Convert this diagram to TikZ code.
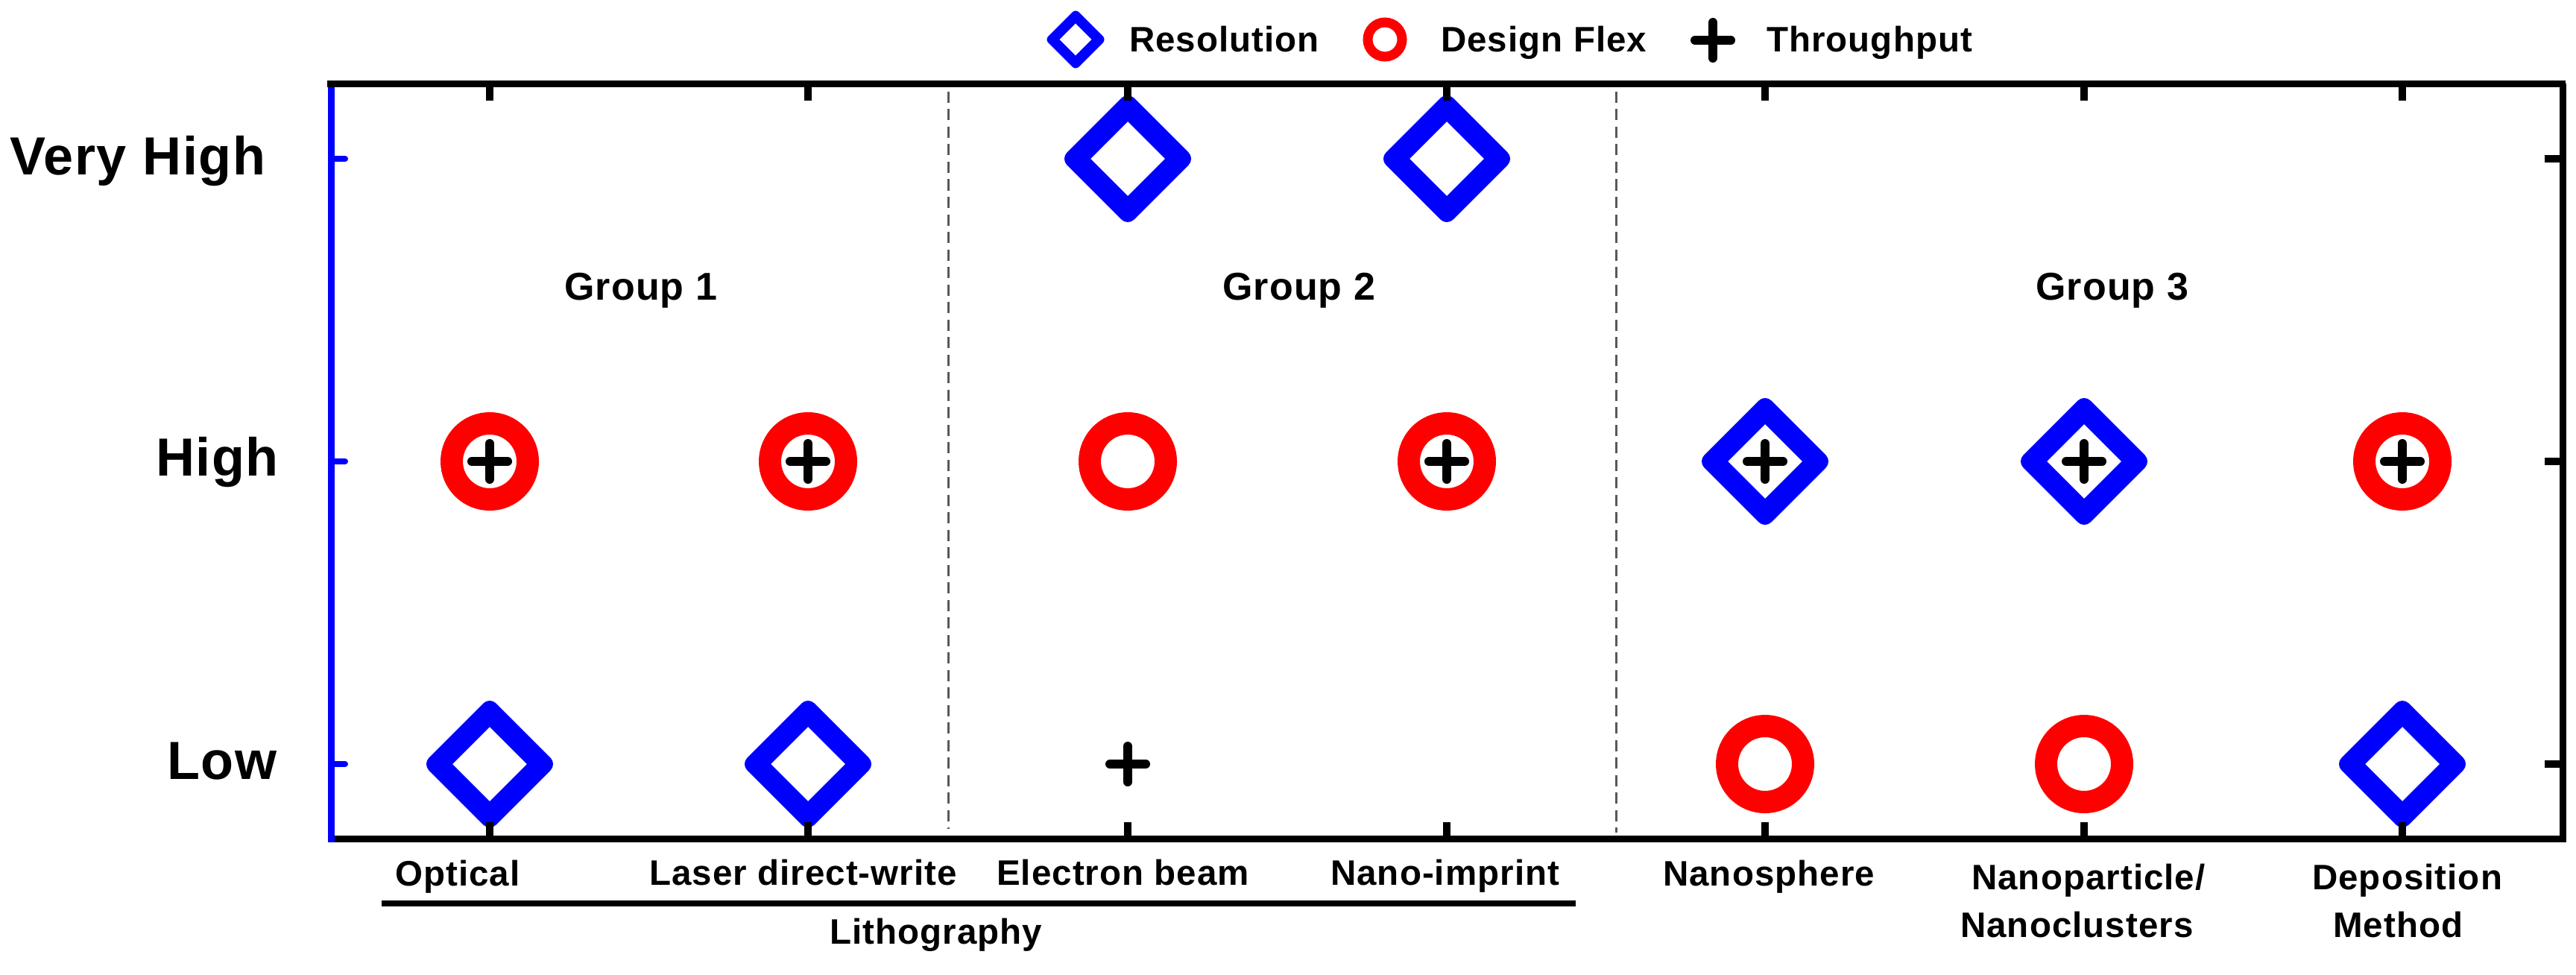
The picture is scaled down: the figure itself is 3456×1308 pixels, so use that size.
\documentclass[tikz,border=0pt]{standalone}
\usepackage{fontspec}
\setmainfont[LetterSpace=2.2]{Liberation Sans}
\definecolor{mblue}{RGB}{0,0,255}
\definecolor{mred}{RGB}{255,0,0}
\newcommand{\markD}[2]{\fill[diamondmark,rounded corners=12pt] (#1-90,#2) -- (#1,#2-90) -- (#1+90,#2) -- (#1,#2+90) -- cycle [sharp corners] (#1-50,#2) -- (#1,#2-50) -- (#1+50,#2) -- (#1,#2+50) -- cycle;}
\newcommand{\markO}[2]{\draw[ringmark] (#1,#2) circle[radius=51];}
\newcommand{\markP}[2]{\draw[plusmark] (#1-24,#2) -- (#1+24,#2) (#1,#2-24) -- (#1,#2+24);}
\tikzset{
  diamondmark/.style={fill=mblue,even odd rule},
  ringmark/.style={draw=mred,line width=30pt},
  smallring/.style={draw=mred,line width=13pt},
  plusmark/.style={draw=black,line width=12pt,line cap=round},
  bigtxt/.style={anchor=base west,inner sep=0pt,font=\fontsize{72}{72}\selectfont\bfseries},
  midtxt/.style={anchor=base west,inner sep=0pt,font=\fontsize{52}{52}\selectfont\bfseries},
  txt/.style={anchor=base west,inner sep=0pt,font=\fontsize{47.5}{47.5}\selectfont\bfseries},
  sep/.style={draw=black!65,line width=3pt,dash pattern=on 15pt off 8.5pt},
  tick/.style={draw=black,line width=9.5pt},
  btick/.style={draw=mblue,line width=8pt,line cap=round},
  rtick/.style={draw=black,line width=9.5pt}
}
\begin{document}
\begin{tikzpicture}[x=1pt,y=-1pt]
\useasboundingbox[fill=white] (0,0) rectangle (3456,1308);
% separators
\draw[sep] (1272,123) -- (1272,1112);
\draw[sep] (2168,123) -- (2168,1117);
% ticks
\foreach \x in {657,1084,1513,1941,2368,2796,3223}{
  \draw[tick] (\x,112) -- (\x,135);
  \draw[tick] (\x,1126) -- (\x,1103);
}
\foreach \y in {213,619,1025}{
  \draw[btick] (444,\y) -- (463,\y);
  \draw[rtick] (3439,\y) -- (3414,\y);
}
% frame
\draw[draw=black,line width=9pt] (3438,112) -- (3438,1130);
\draw[draw=mblue,line width=9pt] (444,112) -- (444,1130);
\draw[draw=black,line width=9.5pt] (439,112.5) -- (3442,112.5);
\draw[draw=black,line width=9.5pt] (449,1125.5) -- (3442,1125.5);
% data
\markD{1513}{213}
\markD{1941}{213}
\markO{657}{619}\markP{657}{619}
\markO{1084}{619}\markP{1084}{619}
\markO{1513}{619}
\markO{1941}{619}\markP{1941}{619}
\markD{2368}{619}\markP{2368}{619}
\markD{2796}{619}\markP{2796}{619}
\markO{3223}{619}\markP{3223}{619}
\markD{657}{1025}
\markD{1084}{1025}
\markP{1513}{1025}
\markO{2368}{1025}
\markO{2796}{1025}
\markD{3223}{1025}
% redraw the ticks that sit on the diamonds
\foreach \x in {657,1084,3223}{\draw[tick] (\x,1126) -- (\x,1103);}
\draw[tick] (1513,112) -- (1513,135);
\draw[tick] (1941,112) -- (1941,135);
% legend
\fill[diamondmark,rounded corners=6pt] (1443-41,53) -- (1443,53-41) -- (1443+41,53) -- (1443,53+41) -- cycle [sharp corners] (1443-21.7,53) -- (1443,53-21.7) -- (1443+21.7,53) -- (1443,53+21.7) -- cycle;
\draw[smallring] (1858,53) circle[radius=23];
\markP{2298}{54}
\node[txt] (legres) at (1515,70) {Resolution};
\node[txt] (legdes) at (1933,70) {Design Flex};
\node[txt] (legthr) at (2370,70) {Throughput};
% y labels
\node[bigtxt] (vhigh) at (13,234) {Very High};
\node[bigtxt] (high) at (209,638) {High};
\node[bigtxt] (low) at (224,1045) {Low};
% groups
\node[midtxt] (g1) at (757,402) {Group 1};
\node[midtxt] (g2) at (1640,402) {Group 2};
\node[midtxt] (g3) at (2731,402) {Group 3};
% x labels
\node[txt] (optical) at (530,1188) {Optical};
\node[txt] (laser) at (871,1187) {Laser direct-write};
\node[txt] (ebeam) at (1337,1187) {Electron beam};
\node[txt] (nimp) at (1785,1187) {Nano-imprint};
\node[txt] (nsph) at (2231,1188) {Nanosphere};
\node[txt] (npart) at (2645,1193) {Nanoparticle/};
\node[txt] (nclus) at (2630,1257) {Nanoclusters};
\node[txt] (depo) at (3102,1193) {Deposition};
\node[txt] (meth) at (3130,1257) {Method};
\node[txt] (litho) at (1113,1266) {Lithography};
\draw[draw=black,line width=8.5pt] (512,1212) -- (2114,1212);
\end{tikzpicture}
\end{document}
